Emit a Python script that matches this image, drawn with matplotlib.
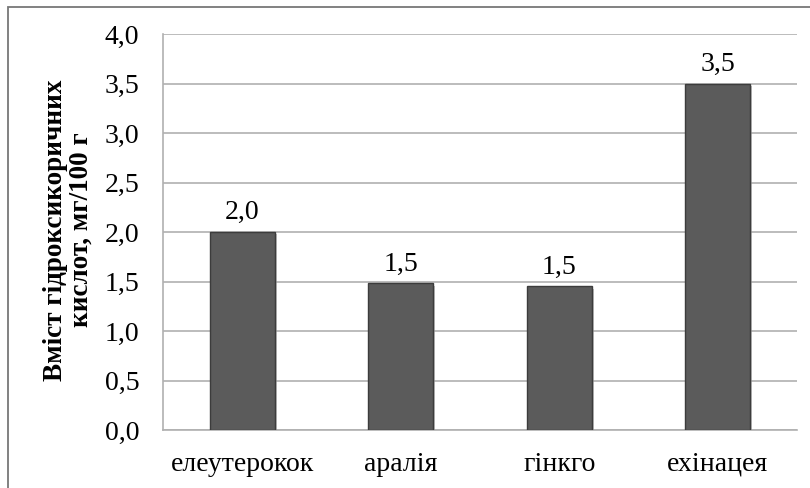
import matplotlib
matplotlib.use("Agg")
import matplotlib.pyplot as plt
import matplotlib.patheffects as pe
from matplotlib.patches import Rectangle

categories = ["елеутерокок", "аралія", "гінкго", "ехінацея"]
values = [2.0, 1.48, 1.45, 3.5]
labels = ["2,0", "1,5", "1,5", "3,5"]
yticks = [0.0, 0.5, 1.0, 1.5, 2.0, 2.5, 3.0, 3.5, 4.0]
ytick_labels = ["0,0", "0,5", "1,0", "1,5", "2,0", "2,5", "3,0", "3,5", "4,0"]
ylabel = "Вміст гідроксикоричних\nкислот, мг/100 г"

plt.rcParams['font.family'] = ['Liberation Serif', 'DejaVu Serif']
FS = 20

fig = plt.figure(figsize=(8.1, 4.88), dpi=100)
ax = fig.add_axes([163/810, 1 - 430/488, (797-163)/810, (430-34)/488])

x = list(range(len(categories)))
bars = ax.bar(x, values, width=0.41, color='#5b5b5b', edgecolor='#3c3c3c', linewidth=1.0, zorder=3)
for b in bars:
    b.set_path_effects([pe.SimplePatchShadow(offset=(1.5, -1.5), shadow_rgbFace='#9a9a9a', alpha=0.6), pe.Normal()])

for xi, v, lab in zip(x, values, labels):
    ax.annotate(lab, (xi, v), xytext=(0, 5), textcoords='offset points', ha='center', va='bottom', fontsize=FS)

ax.set_xlim(-0.5, len(categories) - 0.5)
ax.set_ylim(0, 4.0)
ax.set_yticks(yticks)
ax.set_yticklabels(ytick_labels, fontsize=FS)
ax.set_xticks(x)
ax.set_xticklabels(categories, fontsize=FS)
ax.tick_params(axis='both', length=0)
ax.tick_params(axis='y', pad=17)
ax.tick_params(axis='x', pad=15.5)
ax.yaxis.grid(True, color='#b0b0b0', linewidth=1.2, zorder=0)
ax.set_axisbelow(True)
for s in ['top', 'right']:
    ax.spines[s].set_visible(False)
ax.spines['left'].set_color('#b0b0b0')
ax.spines['bottom'].set_color('#b0b0b0')
ax.spines['left'].set_linewidth(1.2)
ax.spines['bottom'].set_linewidth(1.2)

fig.text(68/810, 1 - 230/488, ylabel, rotation=90, ha='center', va='center',
         fontsize=19.5, fontweight='bold', multialignment='center', linespacing=1.05)

fig.patches.append(Rectangle((8/810, -0.1), 1.2, 1.1 + (488 - 7)/488 - 1.0 + 0.0,
                             transform=fig.transFigure, fill=False, edgecolor='#777777', linewidth=1.3))

fig.savefig("out.png", dpi=100)
